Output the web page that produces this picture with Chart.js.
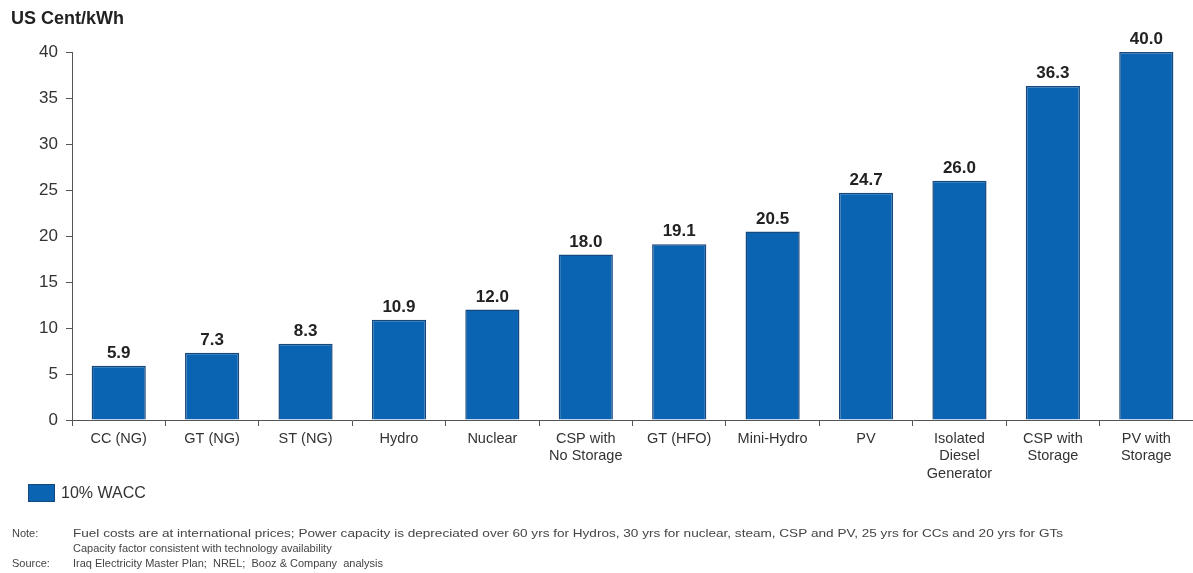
<!DOCTYPE html>
<html>
<head>
<meta charset="utf-8">
<script src="https://cdn.jsdelivr.net/npm/chart.js@4"></script>
<style>
  html, body { margin: 0; padding: 0; background: #fff; }
  #wrap { position: relative; width: 1193px; height: 573px; }
</style>
</head>
<body>
<div id="wrap"><canvas id="costChart" width="1193" height="573"></canvas></div>
<script>
// chart data
const categories = [
    "CC (NG)", "GT (NG)", "ST (NG)", "Hydro", "Nuclear",
    ["CSP with", "No Storage"], "GT (HFO)", "Mini-Hydro", "PV",
    ["Isolated", "Diesel", "Generator"], ["CSP with", "Storage"], ["PV with", "Storage"]
];
const waccValues = [5.9, 7.3, 8.3, 10.9, 12.0, 18.0, 19.1, 20.5, 24.7, 26.0, 36.3, 40.0];
const yTicks = [0, 5, 10, 15, 20, 25, 30, 35, 40];
const seriesName = "10% WACC";
const unitLabel = "US Cent/kWh";
const noteLines = [
    ["Note:", "Fuel costs are at international prices; Power capacity is depreciated over 60 yrs for Hydros, 30 yrs for nuclear, steam, CSP and PV, 25 yrs for CCs and 20 yrs for GTs"],
    ["", "Capacity factor consistent with technology availability"],
    ["Source:", "Iraq Electricity Master Plan;  NREL;  Booz & Company  analysis"]
];

const barColor = "#0b64b2";
const textColor = "#333333";

// value labels, unit title, legend and notes
const extras = {
    id: "extras",
    afterDatasetsDraw(chart) {
        const ctx = chart.ctx;
        ctx.save();
        ctx.fillStyle = "#222";
        ctx.font = "bold 17px 'Liberation Sans', Arial, sans-serif";
        ctx.textAlign = "center";
        ctx.textBaseline = "bottom";
        chart.getDatasetMeta(0).data.forEach((bar, i) => {
            ctx.fillText(waccValues[i].toFixed(1), bar.x, bar.y - 4);
        });

        ctx.textAlign = "left";
        ctx.textBaseline = "middle";
        ctx.font = "bold 18px 'Liberation Sans', Arial, sans-serif";
        ctx.fillText(unitLabel, 11, 19);

        // legend
        ctx.fillStyle = barColor;
        ctx.strokeStyle = "#17487d";
        ctx.fillRect(28, 484, 27, 18);
        ctx.strokeRect(28.5, 484.5, 26, 17);
        ctx.fillStyle = textColor;
        ctx.font = "16px 'Liberation Sans', Arial, sans-serif";
        ctx.fillText(seriesName, 61, 494);

        // notes
        ctx.font = "11px 'Liberation Sans', Arial, sans-serif";
        ctx.fillStyle = "#444";
        noteLines.forEach((ln, i) => {
            const y = 534 + i * 15;
            ctx.fillText(ln[0], 12, y);
            if (i === 0) {
                // first note line is set wider in the source slide
                const w = ctx.measureText(ln[1]).width;
                ctx.save();
                ctx.translate(73, y);
                ctx.scale(990 / w, 1);
                ctx.fillText(ln[1], 0, 0);
                ctx.restore();
            } else {
                ctx.fillText(ln[1], 73, y);
            }
        });
        ctx.restore();
    }
};

new Chart(document.getElementById("costChart"), {
    type: "bar",
    data: {
        labels: categories,
        datasets: [
            {
                label: seriesName,
                data: waccValues,
                backgroundColor: barColor,
                borderColor: "#17487d",
                borderWidth: 1.5,
                barPercentage: 0.58,
                categoryPercentage: 1.0,
            },
        ],
    },
    options: {
        responsive: false,
        animation: false,
        layout: { padding: { top: 52, left: 0, right: 0, bottom: 0 } },
        plugins: {
            legend: { display: false },
            tooltip: { enabled: false },
        },
        scales: {
            x: {
                afterFit: (s) => { s.height = 153; },
                grid: {
                    display: true,
                    drawOnChartArea: false,
                    offset: true,
                    tickLength: 6,
                    color: "#555",
                },
                border: { color: "#555", width: 1 },
                ticks: {
                    color: textColor,
                    font: { size: 14.5, family: "'Liberation Sans', Arial, sans-serif" },
                    maxRotation: 0,
                    autoSkip: false,
                    padding: 4,
                },
            },
            y: {
                min: 0,
                max: 40,
                afterFit: (s) => { s.width = 72; },
                afterBuildTicks: (s) => { s.ticks = yTicks.map((v) => ({ value: v })); },
                grid: {
                    display: true,
                    drawOnChartArea: false,
                    tickLength: 6,
                    color: "#555",
                },
                border: { color: "#555", width: 1 },
                ticks: {
                    color: textColor,
                    font: { size: 17, family: "'Liberation Sans', Arial, sans-serif" },
                    padding: 8,
                },
            },
        },
    },
    plugins: [extras],
});
</script>
</body>
</html>
